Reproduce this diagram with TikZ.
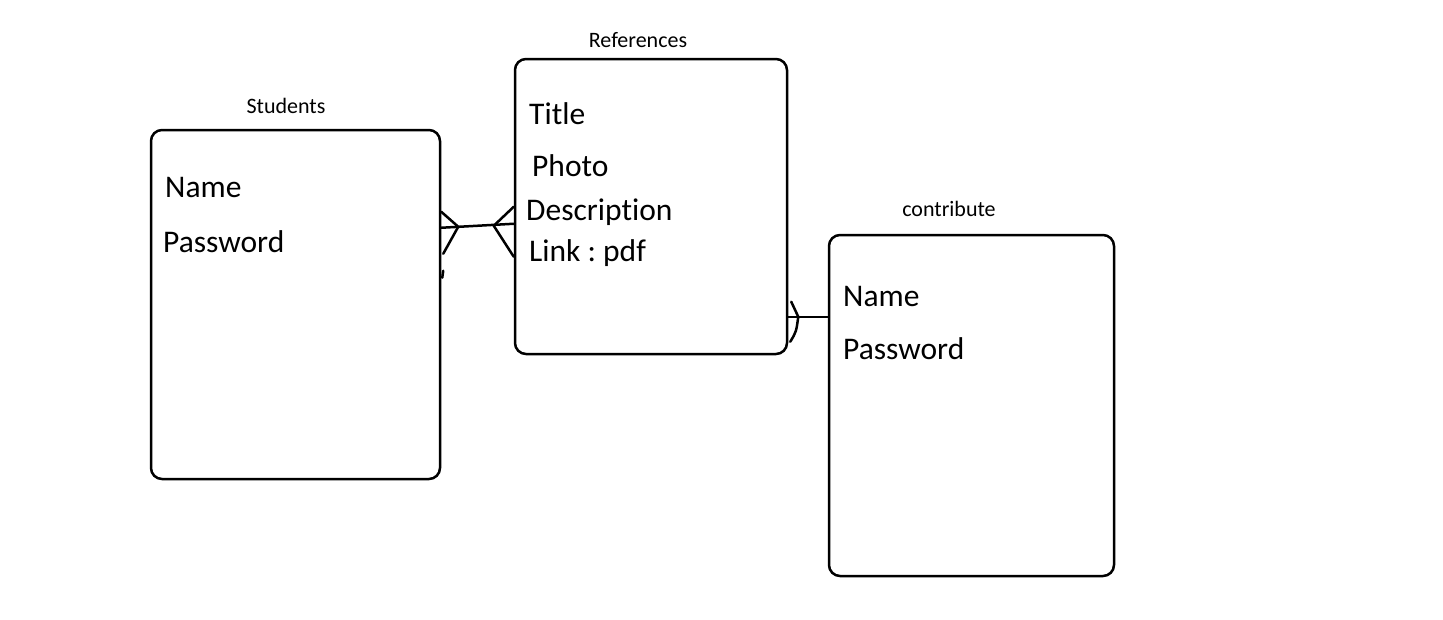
\documentclass[tikz,border=0pt]{standalone}
\usepackage{fontspec}
\setmainfont[Ligatures=NoCommon]{Carlito}
\usetikzlibrary{calc}
\begin{document}
\frenchspacing
\begin{tikzpicture}[x=1pt,y=-1pt,
  entity/.style={draw, line width=2.5pt, rounded corners=11pt, inner sep=0pt},
  attr/.style={anchor=base west, inner sep=0pt, font=\fontsize{31.5}{36}\selectfont},
  etitle/.style={anchor=base, inner sep=0pt, font=\fontsize{22}{26}\selectfont},
  link/.style={line width=2.5pt, line cap=round, line join=round}]
\useasboundingbox (0,0) rectangle (1443,619);
\fill[white] (0,0) rectangle (1443,619);
% entities
\node[entity, minimum width=289pt, minimum height=349pt] (students) at (295.5,304.5) {};
\node[entity, minimum width=272pt, minimum height=295pt] (refs) at (651,206.5) {};
\node[entity, minimum width=285pt, minimum height=341pt] (contrib) at (971.5,405.5) {};
% titles
\node[etitle] (tstudents) at (286,113) {Students};
\node[etitle] (trefs) at (638,47) {References};
\node[etitle] (tcontrib) at (949,216) {contribute};
% attributes
\node[attr] (sname) at (165,197) {Name};
\node[attr] (spass) at (163,252) {Password};
\node[attr] (rtitle) at (529,124) {Title};
\node[attr] (rphoto) at (532,176) {Photo};
\node[attr] (rdesc) at (526,220) {Description};
\node[attr] (rlink) at (529,261) {Link : pdf};
\node[attr] (cname) at (843,306) {Name};
\node[attr] (cpass) at (843,359) {Password};
% Students -- References
\draw[link] ($(students.north east)+(0,99)$) -- ($(refs.north west)+(0,166)$);
\draw[link] ($(students.north east)+(0,83)$) -- ($(students.north east)+(17,98)$) -- ($(students.north east)+(2,125)$);
\draw[link] ($(students.north east)+(2,142)$) -- ($(students.north east)+(1,149)$);
\draw[link] ($(refs.north west)+(0,149)$) -- ($(refs.north west)+(-20,168)$) -- ($(refs.north west)+(0,199)$);
% References -- contribute
\draw[link] ($(refs.north east)+(0,259)$) -- ($(contrib.north west)+(0,83)$);
\draw[link] ($(refs.north east)+(3,244)$) -- ($(refs.north east)+(10,259)$) .. controls ($(refs.north east)+(8,274)$) .. ($(refs.north east)+(2,284)$);
\end{tikzpicture}
\end{document}
